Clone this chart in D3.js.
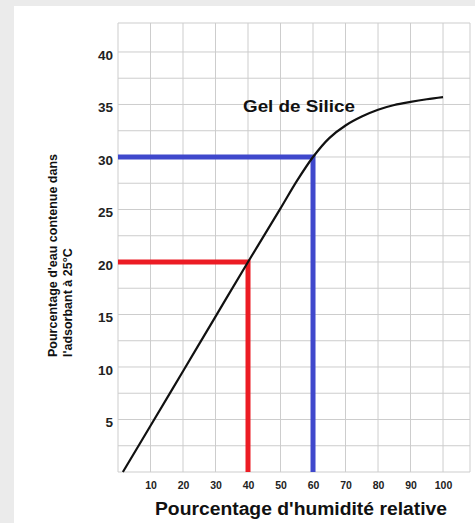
<!DOCTYPE html>
<html>
<head>
<meta charset="utf-8">
<script src="https://cdn.jsdelivr.net/npm/d3@7"></script>
<style>
  body { margin: 0; background: #ebebeb; }
  svg { display: block; }
</style>
</head>
<body>
<div id="chart"></div>
<script>
// Adsorption curve of silica gel
const humidity = [1.5, 10, 20, 30, 40, 50, 55, 60, 65, 70, 75, 80, 85, 90, 95, 100];
const water    = [0, 4.4, 9.6, 14.8, 20, 25.1, 27.7, 30.0, 31.8, 33.0, 33.85, 34.5, 34.95, 35.25, 35.5, 35.7];

// reading guides (red, blue)
const guideX = [40, 60];
const guideY = [20, 30];
const guideColors = ["#ec1c24", "#3f48cc"];

const xTicks = [10, 20, 30, 40, 50, 60, 70, 80, 90, 100];
const yTicks = [5, 10, 15, 20, 25, 30, 35, 40];

const curveLabel = "Gel de Silice";
const xTitle = "Pourcentage d'humidité relative";
const yTitle = ["Pourcentage d'eau contenue dans", "l'adsorbant à 25°C"];

const width = 475, height = 523;

const svg = d3.select("#chart").append("svg")
  .attr("width", width)
  .attr("height", height);

// white panel
svg.append("rect")
  .attr("x", 14).attr("y", 6)
  .attr("width", width - 14).attr("height", height - 6)
  .attr("fill", "#fff");

const x = d3.scaleLinear().domain([0, 108.3]).range([118, 470]);
const y = d3.scaleLinear().domain([0, 42.76]).range([472, 23]);

// grid
const grid = svg.append("g").attr("stroke", "#cdcdcd").attr("stroke-width", 1);
grid.selectAll("line.v")
  .data(d3.range(0, 101, 10).concat([x.domain()[1]]))
  .enter().append("line")
    .attr("x1", d => x(d)).attr("x2", d => x(d))
    .attr("y1", y.range()[0]).attr("y2", y.range()[1]);
grid.selectAll("line.h")
  .data(d3.range(0, 40.1, 2.5).concat([y.domain()[1]]))
  .enter().append("line")
    .attr("y1", d => y(d)).attr("y2", d => y(d))
    .attr("x1", x.range()[0]).attr("x2", x.range()[1]);

// tick labels via axes (no lines)
const xAxis = svg.append("g")
  .attr("transform", `translate(0, ${y(0)})`)
  .call(d3.axisBottom(x).tickValues(xTicks).tickSize(0).tickPadding(10));
xAxis.select(".domain").remove();
xAxis.selectAll("text")
  .attr("font-family", "Arial, 'Liberation Sans', sans-serif")
  .attr("font-weight", "bold")
  .attr("font-size", 10.5)
  .attr("fill", "#222");

const yAxis = svg.append("g")
  .attr("transform", `translate(${x(0)}, 0)`)
  .call(d3.axisLeft(y).tickValues(yTicks).tickSize(0).tickPadding(5));
yAxis.select(".domain").remove();
yAxis.selectAll("text")
  .attr("dy", "0.55em")
  .attr("font-family", "Arial, 'Liberation Sans', sans-serif")
  .attr("font-weight", "bold")
  .attr("font-size", 13.5)
  .attr("fill", "#222");

// guides
guideX.forEach((gx, i) => {
  svg.append("path")
    .attr("d", d3.line()([[x(0), y(guideY[i])], [x(gx), y(guideY[i])], [x(gx), y(0)]]))
    .attr("fill", "none")
    .attr("stroke", guideColors[i])
    .attr("stroke-width", 5)
    .attr("stroke-linejoin", "miter");
});

// curve
const line = d3.line()
  .x((d, i) => x(humidity[i]))
  .y(d => y(d))
  .curve(d3.curveCatmullRom.alpha(0.5));
svg.append("path")
  .attr("d", line(water))
  .attr("fill", "none")
  .attr("stroke", "#111")
  .attr("stroke-width", 2.2);

// labels
svg.append("text")
  .text(curveLabel)
  .attr("x", 243).attr("y", 112)
  .attr("font-family", "Arial, 'Liberation Sans', sans-serif")
  .attr("font-weight", "bold")
  .attr("font-size", 17)
  .attr("textLength", 112)
  .attr("lengthAdjust", "spacingAndGlyphs")
  .attr("fill", "#111");

svg.append("text")
  .text(xTitle)
  .attr("x", 155).attr("y", 515)
  .attr("font-family", "Arial, 'Liberation Sans', sans-serif")
  .attr("font-weight", "bold")
  .attr("font-size", 17.5)
  .attr("textLength", 292)
  .attr("lengthAdjust", "spacingAndGlyphs")
  .attr("fill", "#111");

const yt = svg.append("text")
  .attr("transform", "translate(57, 357) rotate(-90)")
  .attr("font-family", "Arial, 'Liberation Sans', sans-serif")
  .attr("font-weight", "bold")
  .attr("font-size", 12.5)
  .attr("fill", "#111");
yt.selectAll("tspan")
  .data(yTitle)
  .enter().append("tspan")
    .attr("x", 0)
    .attr("dy", (d, i) => i === 0 ? 0 : 15)
    .text(d => d);
</script>
</body>
</html>
